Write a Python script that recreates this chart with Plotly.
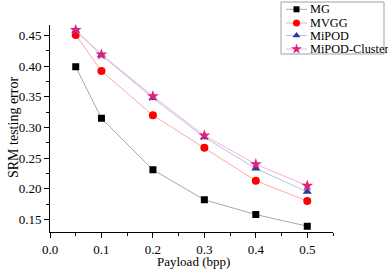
import plotly.graph_objects as go

payload = [0.05, 0.1, 0.2, 0.3, 0.4, 0.5]
mg = [0.399, 0.315, 0.231, 0.182, 0.158, 0.139]
mvgg = [0.451, 0.392, 0.320, 0.267, 0.213, 0.180]
mipod = [0.458, 0.418, 0.348, 0.284, 0.233, 0.195]
mipod_cluster = [0.459, 0.419, 0.351, 0.287, 0.240, 0.205]
names = ["MG", "MVGG", "MiPOD", "MiPOD-Cluster"]
x_ticks = [0, 0.1, 0.2, 0.3, 0.4, 0.5]
x_labels = ["0.0", "0.1", "0.2", "0.3", "0.4", "0.5"]
y_ticks = [0.15, 0.2, 0.25, 0.3, 0.35, 0.4, 0.45]
y_labels = ["0.15", "0.20", "0.25", "0.30", "0.35", "0.40", "0.45"]
x_title = "Payload (bpp)"
y_title = "SRM testing error"

styles = [
    ("square", "#000000", "#a8a8a8", 7),
    ("circle", "#ff0000", "#ffa8a8", 8),
    ("triangle-up", "#1f3f9f", "#b4c4e8", 8),
    ("star", "#e0207a", "#f4b0d4", 9),
]
values = [mg, mvgg, mipod, mipod_cluster]

W, H = 388, 269
# main plot area in pixels
L, R, T, B = 50, 333, 24.5, 231.7
# legend box in pixels
LL, LR, LT, LB = 281, 384, 2, 54

fig = go.Figure()
for name, ys, (sym, mc, lc, sz) in zip(names, values, styles):
    fig.add_trace(go.Scatter(
        x=payload, y=ys, name=name, mode="lines+markers",
        line=dict(color=lc, width=1),
        marker=dict(symbol=sym, color=mc, size=sz, line=dict(width=0)),
        showlegend=False,
    ))

# hand-made legend on an auxiliary pixel-scaled subplot
row_y = [9.3, 23, 35.5, 49]
for i, (name, (sym, mc, lc, sz)) in enumerate(zip(names, styles)):
    fig.add_trace(go.Scatter(
        x=[286, 307], y=[row_y[i], row_y[i]], mode="lines",
        line=dict(color=lc, width=1), xaxis="x2", yaxis="y2",
        showlegend=False, hoverinfo="skip",
    ))
    fig.add_trace(go.Scatter(
        x=[296.5], y=[row_y[i]], mode="markers",
        marker=dict(symbol=sym, color=mc, size=sz - 1, line=dict(width=0)),
        xaxis="x2", yaxis="y2", showlegend=False, hoverinfo="skip",
    ))
    fig.add_annotation(
        x=308, y=row_y[i], xref="x2", yref="y2", text=name,
        showarrow=False, xanchor="left", yanchor="middle",
        font=dict(size=12.3),
    )

fig.add_shape(type="rect", xref="x2 domain", yref="y2 domain",
              x0=0, x1=1, y0=0, y1=1, line=dict(color="#a0a0a0", width=1),
              fillcolor="white", layer="below")

# axis titles
fig.add_annotation(x=193.7 / W, y=1 - 261.5 / H, xref="paper", yref="paper",
                   text=x_title, showarrow=False, xanchor="center", yanchor="middle",
                   font=dict(size=13), borderpad=0)
fig.add_annotation(x=13 / W, y=1 - 128 / H, xref="paper", yref="paper",
                   text=y_title, showarrow=False, xanchor="center", yanchor="middle",
                   textangle=-90, font=dict(size=14))

font = "Liberation Serif"
fig.update_layout(
    width=W, height=H,
    margin=dict(l=0, r=0, t=0, b=0, autoexpand=False),
    paper_bgcolor="white", plot_bgcolor="rgba(0,0,0,0)",
    font=dict(family=font, size=13, color="black"),
    showlegend=False,
    xaxis=dict(
        domain=[L / W, R / W],
        range=[0, 0.55], tickvals=x_ticks, ticktext=x_labels,
        showgrid=False, zeroline=False, showline=True, linecolor="black", linewidth=1,
        ticks="outside", ticklen=5, tickcolor="black", ticklabelstandoff=1,
        minor=dict(ticks="outside", ticklen=3, dtick=0.05, tick0=0, tickcolor="black"),
        automargin=False,
    ),
    yaxis=dict(
        domain=[(H - B) / H, (H - T) / H],
        range=[0.13, 0.468], tickvals=y_ticks, ticktext=y_labels,
        showgrid=False, zeroline=False, showline=True, linecolor="black", linewidth=1,
        ticks="outside", ticklen=5, tickcolor="black",
        minor=dict(ticks="outside", ticklen=3, dtick=0.025, tick0=0, tickcolor="black"),
        automargin=False,
    ),
    xaxis2=dict(
        domain=[LL / W, LR / W], range=[LL, LR], anchor="y2",
        visible=False, fixedrange=True,
    ),
    yaxis2=dict(
        domain=[(H - LB) / H, (H - LT) / H], range=[LB, LT], anchor="x2",
        visible=False, fixedrange=True,
    ),
)
fig.write_html("out.html", config={"displayModeBar": False},
               post_script="document.body.style.margin='0';")
